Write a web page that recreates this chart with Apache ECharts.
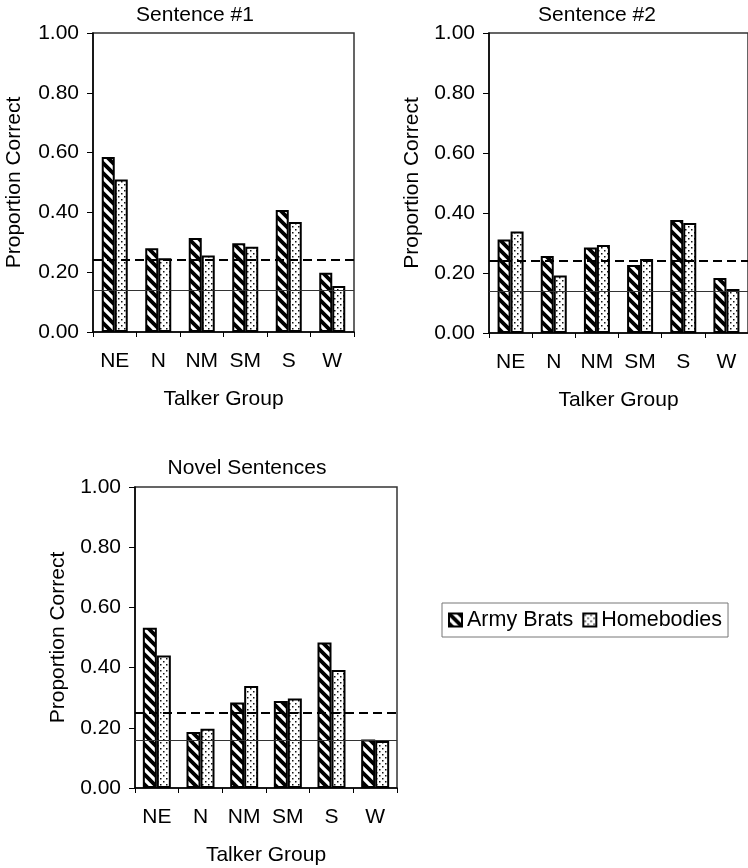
<!DOCTYPE html>
<html><head><meta charset="utf-8">
<script src="https://cdn.jsdelivr.net/npm/echarts@6/dist/echarts.min.js"></script>
<style>html,body{margin:0;padding:0;background:#fff}#c{width:748px;height:868px}</style>
</head><body><div id="c"></div>
<script>
const categories = ['NE', 'N', 'NM', 'SM', 'S', 'W'];
const panelTitles = ['Sentence #1', 'Sentence #2', 'Novel Sentences'];
const seriesNames = ['Army Brats', 'Homebodies'];
const s1Army = [0.585, 0.280, 0.314, 0.297, 0.408, 0.198];
const s1Home = [0.510, 0.247, 0.256, 0.285, 0.368, 0.154];
const s2Army = [0.312, 0.257, 0.285, 0.227, 0.377, 0.183];
const s2Home = [0.338, 0.192, 0.293, 0.247, 0.367, 0.147];
const novArmy = [0.532, 0.186, 0.284, 0.289, 0.483, 0.161];
const novHome = [0.440, 0.197, 0.339, 0.297, 0.392, 0.156];
const dashedRef = [0.245, 0.240, 0.249];
const solidRef = [0.143, 0.143, 0.162];
const yMin = 0, yMax = 1, yStep = 0.2;

const FONT = "'Liberation Sans', Arial, sans-serif";
const FS = 21;

function stripePattern() {
  const n = 10;
  const c = document.createElement('canvas');
  c.width = n; c.height = n;
  const g = c.getContext('2d');
  g.fillStyle = '#fff'; g.fillRect(0, 0, n, n);
  g.strokeStyle = '#000'; g.lineWidth = 3.8;
  g.beginPath();
  g.moveTo(-3, -3); g.lineTo(n + 3, n + 3);
  g.moveTo(-3, n - 3); g.lineTo(3, n + 3);
  g.moveTo(n - 3, -3); g.lineTo(n + 3, 3);
  g.stroke();
  return { image: c, repeat: 'repeat' };
}
function dotPattern() {
  const c = document.createElement('canvas');
  c.width = 6; c.height = 6;
  const g = c.getContext('2d');
  g.fillStyle = '#fff'; g.fillRect(0, 0, 6, 6);
  g.fillStyle = '#111';
  g.fillRect(1, 1, 1.5, 1.5);
  g.fillRect(4, 4, 1.5, 1.5);
  return { image: c, repeat: 'repeat' };
}
const stripes = stripePattern();
const dots = dotPattern();

const grids = [
  { left: 93, top: 33, width: 261, height: 299 },
  { left: 489, top: 33, width: 262, height: 300 },
  { left: 135, top: 487, width: 262, height: 301 }
];
const panelData = [[s1Army, s1Home], [s2Army, s2Home], [novArmy, novHome]];
const titlePos = [[195, 15], [597, 15], [247, 468]];
const yNameGap = [68, 66, 66];
const barW = [13, 13, 14];

const option = {
  animation: false,
  backgroundColor: '#fff',
  textStyle: { fontFamily: FONT },
  grid: grids.map(g => Object.assign({ show: true, borderColor: '#333', borderWidth: 1.5, backgroundColor: 'transparent' }, g)),
  xAxis: grids.map((g, i) => ({
    type: 'category', gridIndex: i, data: categories,
    name: 'Talker Group', nameLocation: 'middle', nameGap: 57,
    nameTextStyle: { fontSize: FS, color: '#000', fontFamily: FONT },
    axisLine: { show: true, lineStyle: { color: '#000', width: 1.5 } },
    axisTick: { show: true, length: 5, alignWithLabel: false, lineStyle: { color: '#000' } },
    axisLabel: { fontSize: FS, color: '#000', margin: 19, fontFamily: FONT }
  })),
  yAxis: grids.map((g, i) => ({
    type: 'value', gridIndex: i, min: yMin, max: yMax, interval: yStep,
    name: 'Proportion Correct', nameLocation: 'middle', nameGap: yNameGap[i],
    nameTextStyle: { fontSize: FS, color: '#000', fontFamily: FONT },
    axisLine: { show: true, lineStyle: { color: '#000', width: 1.5 } },
    axisTick: { show: true, length: 6, lineStyle: { color: '#000' } },
    axisLabel: { fontSize: FS, color: '#000', margin: 14, fontFamily: FONT, formatter: v => v.toFixed(2) },
    splitLine: { show: false }
  })),
  legend: {
    data: seriesNames, left: 442, top: 603,
    itemWidth: 13, itemHeight: 13, itemGap: 9,
    padding: [6, 6], borderColor: '#777', borderWidth: 1,
    textStyle: { fontSize: 21.5, color: '#000', fontFamily: FONT },
    icon: 'rect'
  },
  graphic: panelTitles.map((t, i) => ({
    type: 'text', x: titlePos[i][0], y: titlePos[i][1],
    style: { text: t, font: FS + 'px ' + FONT, fill: '#000', align: 'center', verticalAlign: 'middle' }
  })),
  series: []
};

panelData.forEach((pair, i) => {
  pair.forEach((vals, k) => {
    const s = {
      type: 'bar', name: seriesNames[k], xAxisIndex: i, yAxisIndex: i,
      data: vals, barWidth: barW[i], barGap: '0%',
      itemStyle: { color: k === 0 ? stripes : dots, borderColor: '#000', borderWidth: 2 }
    };
    if (k === 0) {
      s.markLine = {
        silent: true, symbol: 'none', label: { show: false },
        data: [
          { yAxis: dashedRef[i], lineStyle: { type: [9, 5], width: 2, color: '#000' } },
          { yAxis: solidRef[i], lineStyle: { type: 'solid', width: 1, color: '#333' } }
        ]
      };
    }
    option.series.push(s);
  });
});

const chart = echarts.init(document.getElementById('c'), null, { renderer: 'canvas' });
chart.setOption(option);
</script>
</body></html>
